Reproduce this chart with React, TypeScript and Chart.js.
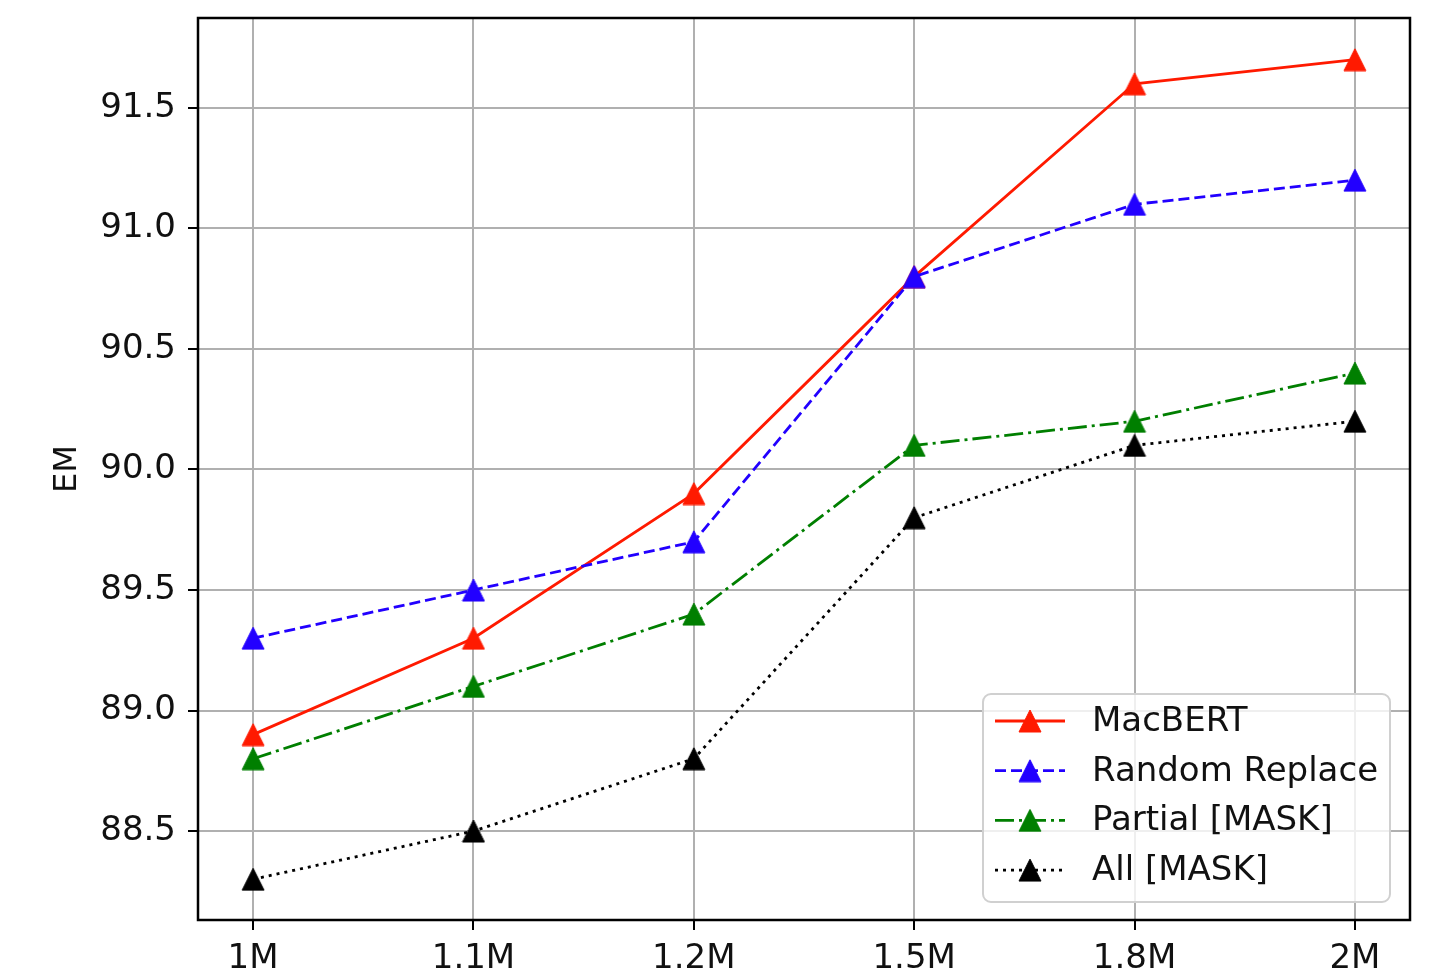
import React, { useEffect, useRef } from "react";
import { Chart, registerables } from "chart.js";

Chart.register(...registerables);

const categories = ["1M", "1.1M", "1.2M", "1.5M", "1.8M", "2M"];
const macbert = [88.9, 89.3, 89.9, 90.8, 91.6, 91.7];
const randomReplace = [89.3, 89.5, 89.7, 90.8, 91.1, 91.2];
const partialMask = [88.8, 89.1, 89.4, 90.1, 90.2, 90.4];
const allMask = [88.3, 88.5, 88.8, 89.8, 90.1, 90.2];
const yTicks = [88.5, 89.0, 89.5, 90.0, 90.5, 91.0, 91.5];
const seriesLabels = ["MacBERT", "Random Replace", "Partial [MASK]", "All [MASK]"];
const seriesColors = ["#ff1a00", "#2200ff", "#007f00", "#000000"];
const seriesDashes: number[][] = [[], [11, 5], [19, 5, 3, 5], [3, 5]];

const FONT = "'DejaVu Sans', sans-serif";

function triangle(color: string): HTMLCanvasElement {
  const c = document.createElement("canvas");
  c.width = 24;
  c.height = 24;
  const ctx = c.getContext("2d")!;
  ctx.fillStyle = color;
  ctx.strokeStyle = color;
  ctx.lineWidth = 1;
  ctx.beginPath();
  ctx.moveTo(12, 1);
  ctx.lineTo(23, 23);
  ctx.lineTo(1, 23);
  ctx.closePath();
  ctx.fill();
  ctx.stroke();
  return c;
}

export default function App() {
  const ref = useRef<HTMLCanvasElement>(null);
  useEffect(() => {
    document.body.style.margin = "0";
    const values = [macbert, randomReplace, partialMask, allMask];
    const images = seriesColors.map(triangle);
    const datasets = values.map((vals, i) => ({
      label: seriesLabels[i],
      data: vals.map((v, j) => ({ x: j, y: v })),
      borderColor: seriesColors[i],
      backgroundColor: seriesColors[i],
      borderWidth: 2.8,
      borderDash: seriesDashes[i],
      pointStyle: images[i],
      pointRadius: 12,
      order: 3 - i,
      tension: 0,
    }));

    const framePlugin = {
      id: "frameLegend",
      afterDraw(chart: any) {
        const { ctx, chartArea } = chart;
        ctx.save();
        ctx.strokeStyle = "#000";
        ctx.lineWidth = 2.5;
        ctx.strokeRect(chartArea.left, chartArea.top, chartArea.right - chartArea.left, chartArea.bottom - chartArea.top);

        // legend
        const bx = 983, by = 694, bw = 407, bh = 208, r = 8;
        ctx.beginPath();
        ctx.moveTo(bx + r, by);
        ctx.arcTo(bx + bw, by, bx + bw, by + bh, r);
        ctx.arcTo(bx + bw, by + bh, bx, by + bh, r);
        ctx.arcTo(bx, by + bh, bx, by, r);
        ctx.arcTo(bx, by, bx + bw, by, r);
        ctx.closePath();
        ctx.fillStyle = "rgba(255,255,255,0.8)";
        ctx.fill();
        ctx.strokeStyle = "#d0d0d0";
        ctx.lineWidth = 2;
        ctx.stroke();

        chart.data.datasets.forEach((ds: any, i: number) => {
          const y = 721 + i * 49.7;
          ctx.strokeStyle = ds.borderColor;
          ctx.lineWidth = 2.8;
          ctx.setLineDash(ds.borderDash || []);
          ctx.beginPath();
          ctx.moveTo(995, y);
          ctx.lineTo(1065, y);
          ctx.stroke();
          ctx.setLineDash([]);
          const img = ds.pointStyle as HTMLCanvasElement;
          ctx.drawImage(img, 1030 - img.width / 2, y - img.height / 2);
          ctx.fillStyle = "#111";
          ctx.font = `34px ${FONT}`;
          ctx.textBaseline = "middle";
          ctx.textAlign = "left";
          ctx.fillText(ds.label, 1092, y + 1);
        });
        ctx.restore();
      },
    };

    const chart = new Chart(ref.current!, {
      type: "line",
      data: { datasets },
      options: {
        responsive: false,
        animation: false,
        devicePixelRatio: 1,
        layout: { padding: { left: 0, right: 36, top: 18, bottom: 0 } },
        plugins: { legend: { display: false }, tooltip: { enabled: false } },
        scales: {
          x: {
            type: "linear",
            min: -0.25,
            max: 5.25,
            afterBuildTicks: (scale: any) => {
              scale.ticks = categories.map((_, i) => ({ value: i }));
            },
            afterFit: (scale: any) => {
              scale.height = 54;
              scale.paddingLeft = 0;
              scale.paddingRight = 0;
              scale.paddingTop = 0;
              scale.paddingBottom = 0;
            },
            ticks: {
              autoSkip: false,
              maxRotation: 0,
              padding: 9,
              color: "#111",
              font: { family: FONT, size: 34, lineHeight: 1.2 },
              callback: (v: any) => categories[Math.round(Number(v))] ?? "",
            },
            grid: {
              color: "#b0b0b0",
              lineWidth: 2,
              tickLength: 10,
              tickColor: "#000",
              tickWidth: 2,
            },
            border: { display: false },
          },
          y: {
            type: "linear",
            min: 88.131,
            max: 91.873,
            afterBuildTicks: (scale: any) => {
              scale.ticks = yTicks.map((v) => ({ value: v }));
            },
            afterFit: (scale: any) => {
              scale.width = 198;
              scale.paddingTop = 0;
              scale.paddingBottom = 0;
              scale.paddingLeft = 0;
              scale.paddingRight = 0;
            },
            ticks: {
              padding: 12,
              color: "#111",
              font: { family: FONT, size: 34, lineHeight: 1.2 },
              callback: (v: any) => Number(v).toFixed(1),
            },
            grid: {
              color: "#b0b0b0",
              lineWidth: 2,
              tickLength: 10,
              tickColor: "#000",
              tickWidth: 2,
            },
            border: { display: false },
            title: {
              display: true,
              text: "EM",
              color: "#111",
              font: { family: FONT, size: 32, lineHeight: 1.2 },
              padding: { top: 48, bottom: 0 },
            },
          },
        },
      },
      plugins: [framePlugin],
    } as any);
    return () => chart.destroy();
  }, []);
  return (
    <div style={{ width: 1446, height: 974 }}>
      <canvas ref={ref} width={1446} height={974} />
    </div>
  );
}
